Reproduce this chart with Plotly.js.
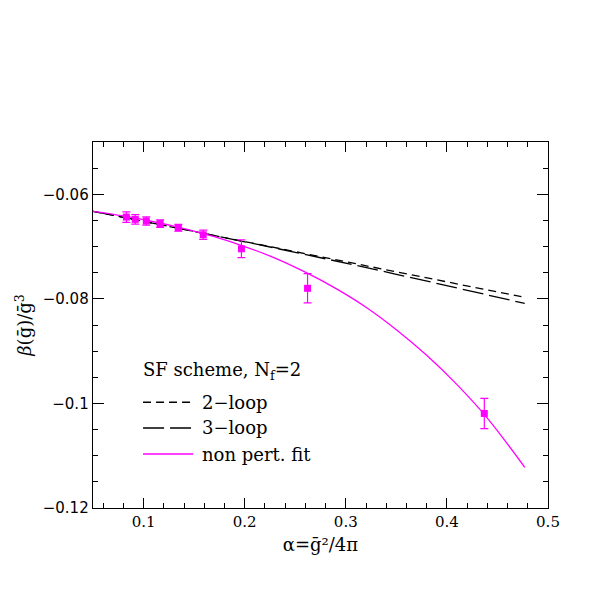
<!DOCTYPE html>
<html>
<head>
<meta charset="utf-8">
<script src="https://cdn.plot.ly/plotly-3.0.1.min.js"></script>
<style>
  body { margin: 0; background: #fff; }
  #plot { width: 599px; height: 599px; }
</style>
</head>
<body>
<div id="plot"></div>
<script>
// lattice points (SF scheme, Nf=2)
let alphaPts = [0.083, 0.0918, 0.1027, 0.1164, 0.1344, 0.159, 0.1968, 0.2622, 0.437];
let betaPts = [-0.06436, -0.0648, -0.06511, -0.06561, -0.0664, -0.06774, -0.07043, -0.07798, -0.10192];
let betaErr = [0.001, 0.0009, 0.0008, 0.0007, 0.00065, 0.0009, 0.0017, 0.0028, 0.0029];

// perturbative curves
let loop2Alpha = [0.05, 0.4737];
let loop2Beta = [-0.06327, -0.07959];
let loop3Alpha = [0.05, 0.15, 0.25, 0.35, 0.477];
let loop3Beta = [-0.06327, -0.0671, -0.0711, -0.0753, -0.08088];

// non perturbative fit
let fitAlpha = [0.05, 0.08, 0.11, 0.14, 0.17, 0.2, 0.23, 0.26, 0.29, 0.32, 0.35, 0.38, 0.41, 0.44, 0.477];
let fitBeta = [-0.06327, -0.06415, -0.06525, -0.06655, -0.0681, -0.07, -0.0722, -0.0749, -0.078, -0.0816, -0.0859, -0.0908, -0.0964, -0.1028, -0.11223];

let xTicks = [0.1, 0.2, 0.3, 0.4, 0.5];
let xTickText = ['0.1', '0.2', '0.3', '0.4', '0.5'];
let yTicks = [-0.12, -0.1, -0.08, -0.06];
let yTickText = ['\u22120.12', '\u22120.1', '\u22120.08', '\u22120.06'];

let legendLabels = ['2\u2212loop', '3\u2212loop', 'non pert. fit'];

const magenta = '#ff00ff';
const serif = 'DejaVu Serif';
const dash2 = '8px,5px';
const dash3 = '21px,6px';

let tracePts = {
    x: alphaPts,
    y: betaPts,
    mode: 'markers',
    type: 'scatter',
    marker: {symbol: 'square', size: 7, color: magenta},
    error_y: {type: 'data', array: betaErr, visible: true, color: magenta, thickness: 1.2, width: 4},
    showlegend: false
};

let trace2loop = {
    x: loop2Alpha,
    y: loop2Beta,
    mode: 'lines',
    line: {color: 'black', width: 1.3, dash: dash2},
    showlegend: false
};

let trace3loop = {
    x: loop3Alpha,
    y: loop3Beta,
    mode: 'lines',
    line: {color: 'black', width: 1.3, dash: dash3, shape: 'spline'},
    showlegend: false
};

let traceFit = {
    x: fitAlpha,
    y: fitBeta,
    mode: 'lines',
    line: {color: magenta, width: 1.3, shape: 'spline'},
    showlegend: false
};

var data = [trace2loop, trace3loop, traceFit, tracePts];

// legend drawn by hand, like the original
let legX0 = 0.11, legX1 = 0.22, legText = 0.235;
let legY = [0.289, 0.2186, 0.1475];
let legDash = [dash2, dash3, 'solid'];
let legColor = ['black', 'black', magenta];

let shapes = legY.map((yy, i) => ({
    type: 'line', xref: 'paper', yref: 'paper',
    x0: legX0, x1: legX1, y0: yy, y1: yy,
    line: {color: legColor[i], width: 1.3, dash: legDash[i]}
}));

let annotations = legY.map((yy, i) => ({
    xref: 'paper', yref: 'paper', x: legText, y: yy,
    xanchor: 'left', yanchor: 'middle', showarrow: false,
    text: legendLabels[i],
    font: {family: serif, size: 18, color: 'black'}
}));
annotations.push({
    xref: 'paper', yref: 'paper', x: legX0 - 0.005, y: 0.373,
    xanchor: 'left', yanchor: 'middle', showarrow: false,
    text: 'SF scheme, N<sub>f</sub>=2',
    font: {family: serif, size: 18, color: 'black'}
});

var layout = {
    width: 599,
    height: 599,
    margin: {l: 93, r: 51, t: 142, b: 91},
    paper_bgcolor: 'white',
    plot_bgcolor: 'white',
    showlegend: false,
    xaxis: {
        range: [0.05, 0.5],
        tickvals: xTicks,
        ticktext: xTickText,
        ticks: 'inside',
        ticklen: 10,
        tickwidth: 1,
        tickcolor: 'black',
        minor: {dtick: 0.02, tick0: 0, ticks: 'inside', ticklen: 5, tickcolor: 'black', tickwidth: 1},
        showline: true,
        linecolor: 'black',
        linewidth: 1.3,
        mirror: 'allticks',
        showgrid: false,
        zeroline: false,
        tickfont: {family: serif, size: 15, color: 'black'},
        title: {text: '\u03b1=\u1e21\u00b2/4\u03c0', font: {family: serif, size: 18, color: 'black'}, standoff: 8}
    },
    yaxis: {
        range: [-0.12, -0.05],
        tickvals: yTicks,
        ticktext: yTickText,
        ticks: 'inside',
        ticklen: 11,
        tickwidth: 1,
        tickcolor: 'black',
        minor: {dtick: 0.005, tick0: 0, ticks: 'inside', ticklen: 5, tickcolor: 'black', tickwidth: 1},
        showline: true,
        linecolor: 'black',
        linewidth: 1.3,
        mirror: 'allticks',
        showgrid: false,
        zeroline: false,
        tickfont: {family: 'DejaVu Sans', size: 15, color: 'black'},
        title: {text: '<i>\u03b2</i>(\u1e21)/\u1e21<sup>3</sup>', font: {family: serif, size: 18, color: 'black'}, standoff: 6}
    },
    shapes: shapes,
    annotations: annotations
};

Plotly.newPlot('plot', data, layout, {displayModeBar: false, staticPlot: true});
</script>
</body>
</html>
